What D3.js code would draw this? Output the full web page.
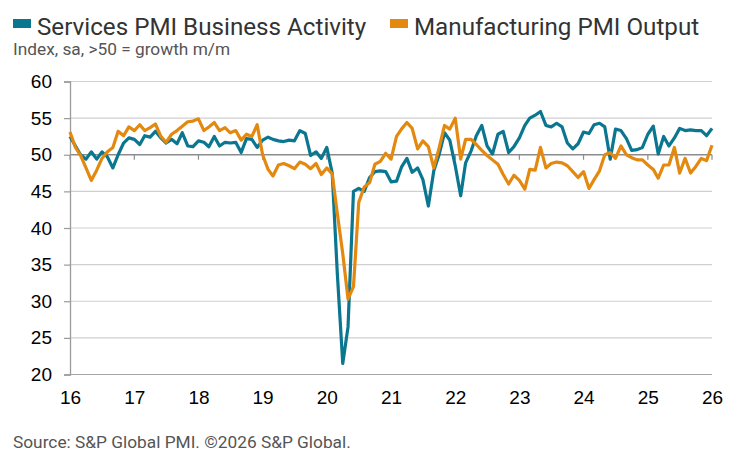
<!DOCTYPE html>
<html>
<head>
<meta charset="utf-8">
<script src="https://cdn.jsdelivr.net/npm/d3@7"></script>
<style>
  body { margin: 0; background: #fff; }
  .legend-text { font-family: Roboto, "Noto Sans", sans-serif; font-size: 24.2px; fill: #333; }
  .note { font-family: Roboto, "Noto Sans", sans-serif; fill: #555; }
  .axis text { font-family: "Liberation Sans", Arial, sans-serif; font-size: 19px; fill: #000; }
</style>
</head>
<body>
<div id="chart"></div>
<script>
// Monthly readings, Jan 2016 .. Jan 2026
const startMonth = new Date(2016, 0, 1);

const services = [
  52.5, 51.2, 50.0, 49.4, 50.4, 49.4, 50.4, 49.7, 48.2, 50.0, 51.6, 52.3,
  52.1, 51.4, 52.6, 52.4, 53.2, 52.3, 51.6, 52.1, 51.5, 53.0, 51.2, 51.1,
  51.9, 51.7, 51.1, 52.5, 51.2, 51.7, 51.6, 51.7, 50.3, 52.2, 52.1, 51.0,
  52.0, 52.4, 52.1, 51.9, 51.8, 52.0, 51.9, 53.3, 52.9, 49.9, 50.4, 49.5,
  51.0, 47.5, 33.8, 21.5, 26.5, 45.0, 45.4, 45.0, 46.9, 47.7, 47.8, 47.7,
  46.3, 46.4, 48.3, 49.5, 47.6, 48.2, 46.6, 43.0, 47.8, 50.0, 53.0, 52.0,
  48.5, 44.4, 48.9, 50.5, 52.6, 54.0, 51.2, 50.1, 52.8, 53.2, 50.3, 51.1,
  52.3, 54.0, 55.0, 55.4, 55.9, 54.0, 53.8, 54.3, 53.8, 51.6, 50.8, 51.5,
  53.1, 52.9, 54.1, 54.3, 53.8, 49.4, 53.5, 53.3, 52.2, 50.6, 50.7, 51.0,
  52.8, 53.9, 50.1, 52.5, 51.2, 52.3, 53.6, 53.3, 53.4, 53.3, 53.3, 52.6,
  53.6
];

const manufacturing = [
  53.1, 51.0, 49.9, 48.2, 46.5, 47.9, 49.5, 50.4, 51.0, 53.2, 52.6, 53.8,
  53.3, 54.1, 53.3, 53.7, 54.2, 52.5, 51.7, 52.8, 53.3, 53.9, 54.5, 54.6,
  54.9, 53.3, 53.8, 54.4, 53.3, 53.7, 53.0, 53.3, 52.0, 52.8, 52.5, 54.1,
  50.0, 48.0, 47.1, 48.6, 48.8, 48.5, 48.1, 49.0, 48.7, 48.1, 48.8, 47.3,
  48.2, 47.4, 42.0, 36.5, 30.3, 32.0, 43.5, 45.6, 46.2, 48.7, 49.1, 50.2,
  49.4, 52.5, 53.5, 54.4, 53.6, 50.8, 51.9, 51.1, 48.2, 50.9, 54.0, 53.5,
  55.0, 49.4, 52.1, 52.1, 51.4, 50.6, 49.9, 49.3, 48.7, 47.3, 46.0, 47.2,
  46.5, 45.3, 48.0, 47.9, 51.0, 48.2, 48.8, 49.0, 48.9, 48.5, 47.7, 46.9,
  47.7, 45.4, 46.6, 47.8, 50.0, 50.3, 49.5, 51.2, 50.0, 49.6, 49.3, 49.3,
  48.6, 48.0, 46.8, 48.6, 48.6, 51.0, 47.5, 49.5, 47.5, 48.4, 49.5, 49.2,
  51.3
];

const yearLabels = ["16", "17", "18", "19", "20", "21", "22", "23", "24", "25", "26"];
const yTicks = [20, 25, 30, 35, 40, 45, 50, 55, 60];

const seriesNames = ["Services PMI Business Activity", "Manufacturing PMI Output"];
const seriesColors = ["#0a7690", "#e3890f"];

// Chart dimensions
const width = 730, height = 461;
const margin = {top: 81.5, right: 18, bottom: 86.5, left: 70};
const innerW = width - margin.left - margin.right;
const innerH = height - margin.top - margin.bottom;

const svg = d3.select("#chart").append("svg")
  .attr("width", width)
  .attr("height", height);

const g = svg.append("g")
  .attr("transform", "translate(" + margin.left + "," + margin.top + ")");

const months = services.map((d, i) => d3.timeMonth.offset(startMonth, i));
const years = yearLabels.map(d => new Date(2000 + +d, 0, 1));

const x = d3.scaleTime().range([0, innerW]).domain([years[0], years[years.length - 1]]);
const y = d3.scaleLinear().range([innerH, 0]).domain([20, 60]);

// Gridlines
g.selectAll(".grid")
  .data(yTicks)
  .enter().append("line")
  .attr("x1", 0)
  .attr("x2", innerW)
  .attr("y1", d => y(d))
  .attr("y2", d => y(d))
  .attr("stroke", d => d === 50 ? "#8c8c8c" : (d === 20 ? "#a6a6a6" : "#d0d0d0"))
  .attr("stroke-width", d => d === 50 ? 1.3 : 1.2);

// Year ticks hanging off the 50 line
g.selectAll(".ytick50")
  .data(years)
  .enter().append("line")
  .attr("x1", d => x(d))
  .attr("x2", d => x(d))
  .attr("y1", y(50))
  .attr("y2", y(50) + 5)
  .attr("stroke", "#8c8c8c")
  .attr("stroke-width", 1.2);

// Left axis
const yAxis = g.append("g")
  .attr("class", "axis")
  .call(d3.axisLeft(y).tickValues(yTicks).tickSize(6).tickPadding(12));
yAxis.select(".domain").attr("stroke", "#9a9a9a").attr("stroke-width", 1.3);
yAxis.selectAll(".tick line").attr("stroke", "#9a9a9a").attr("stroke-width", 1.2);

// Bottom labels (years)
const xAxis = g.append("g")
  .attr("class", "axis")
  .attr("transform", "translate(0," + innerH + ")")
  .call(d3.axisBottom(x).tickValues(years).tickFormat((d, i) => yearLabels[i]).tickSize(0).tickPadding(16));
xAxis.select(".domain").remove();

// Lines
const line = d3.line()
  .x((d, i) => x(months[i]))
  .y(d => y(d));

[services, manufacturing].forEach((s, k) => {
  g.append("path")
    .datum(s)
    .attr("fill", "none")
    .attr("stroke", seriesColors[k])
    .attr("stroke-width", 3.2)
    .attr("stroke-linejoin", "round")
    .attr("d", line);
});

// Legend
const legendX = [13, 390];
const legend = svg.selectAll(".legend")
  .data(seriesNames)
  .enter().append("g")
  .attr("transform", (d, i) => "translate(" + legendX[i] + ",0)");

legend.append("rect")
  .attr("x", 0)
  .attr("y", 19)
  .attr("width", 18)
  .attr("height", 9)
  .attr("fill", (d, i) => seriesColors[i]);

legend.append("text")
  .attr("class", "legend-text")
  .attr("x", 24)
  .attr("y", 35)
  .text(d => d);

svg.append("text")
  .attr("class", "note")
  .attr("x", 13)
  .attr("y", 55)
  .attr("font-size", 17.3)
  .text("Index, sa, >50 = growth m/m");

svg.append("text")
  .attr("class", "note")
  .attr("x", 13)
  .attr("y", 448)
  .attr("font-size", 17.3)
  .text("Source: S&P Global PMI. ©2026 S&P Global.");
</script>
</body>
</html>
